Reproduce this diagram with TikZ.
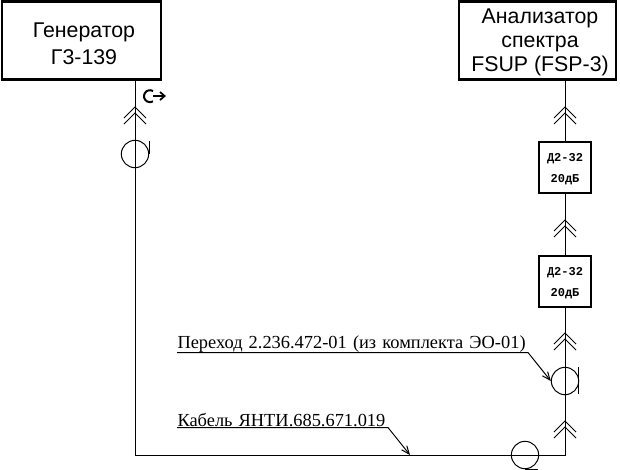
\documentclass[tikz,border=0pt]{standalone}
\usepackage{fontspec}
\setmainfont{Liberation Serif}
\setsansfont{Liberation Sans}
\setmonofont{Liberation Mono}
\usetikzlibrary{positioning,arrows.meta}
\tikzset{
  devbox/.style={draw,line width=1.6pt,inner sep=0pt},
  devtext/.style={inner sep=0pt,font=\sffamily\fontsize{16}{18}\selectfont,align=center,xshift=1.9pt},
  attbox/.style={draw,line width=1.6pt,inner sep=0pt,minimum width=39pt,minimum height=38.5pt,
    label={[inner sep=0pt,yshift=-1.2pt,font=\ttfamily\bfseries\fontsize{9}{15.8}\selectfont,align=center]center:{Д2-32\\20дБ}}},
  coax/.style={draw,circle,line width=.75pt,inner sep=0pt,minimum size=20.5pt},
  cabletext/.style={inner sep=0pt,anchor=south west,align=left,font=\fontsize{13.8}{14}\selectfont},
  lead/.style={line width=.75pt,-{Straight Barb[length=6pt,width=5pt]}}
}
\begin{document}
\begin{tikzpicture}[x=.75pt,y=-.75pt,line width=.75pt,node distance=85.5pt,on grid]
  \useasboundingbox (0,0) rectangle (620,469);
  \path
  node[devbox,minimum width=119.5pt,minimum height=58.5pt,label={[devtext,yshift=-2.2pt]center:{Генератор\\[2pt]Г3-139}}] (gen) at (81.5,40.5) {}
  node[devbox,minimum width=118pt,minimum height=58.5pt,label={[devtext,yshift=-1.2pt]center:{Анализатор\\спектра\\FSUP (FSP-3)}}] (ana) [right=342pt of gen] {}
  node[attbox] (att1) at (565,167.5) {}
  node[attbox] (att2) [below=of att1] {}
  node[coax] (sleft) at (135,154) {}
  node[coax] (sright) at (565,381) {}
  node[coax] (sbot) at (525,455) {}
  node[cabletext,text width=262.5pt] (per) at (177,352.5) {Переход 2.236.472-01 (из комплекта ЭО-01)}
  node[cabletext,text width=157.5pt] (kab) at (177,427.5) {Кабель ЯНТИ.685.671.019}
  ;
  \coordinate (corner) at (sleft |- sbot);
  \coordinate (turn) at (sright |- sbot);
  \coordinate (kabend) at (410,455);
  \draw (gen.south -| sleft) -- (corner) -- (turn) -- (att2.south);
  \draw (ana.south -| att1) -- (att1.north);
  \draw (att1.south) -- (att2.north);
  % connector marks
  \foreach \x/\y in {135/107,135/113,565/107,565/113,565/220,565/226,565/333,565/339,565/421,565/427}
    \draw (\x-11,\y+11) -- (\x,\y) -- (\x+11,\y+11);
  % tails of the cable ends
  \draw (sleft.east) -- ++(0,-13);
  \draw (578,367) -- (578,394);
  \draw (sbot.south) -- ++(13,0);
  % leaders
  \draw[lead] (per.south west) -- (per.south east) -- (sright.west);
  \draw[lead] (kab.south west) -- (kab.south east) -- (kabend);
  % output sign
  \draw[line width=1.5pt] (153,91) arc (-60:-300:6);
  \draw[line width=1.3pt,-{Straight Barb[length=3.5pt,width=6pt]}] (153,96) -- (166,96);
\end{tikzpicture}
\end{document}
